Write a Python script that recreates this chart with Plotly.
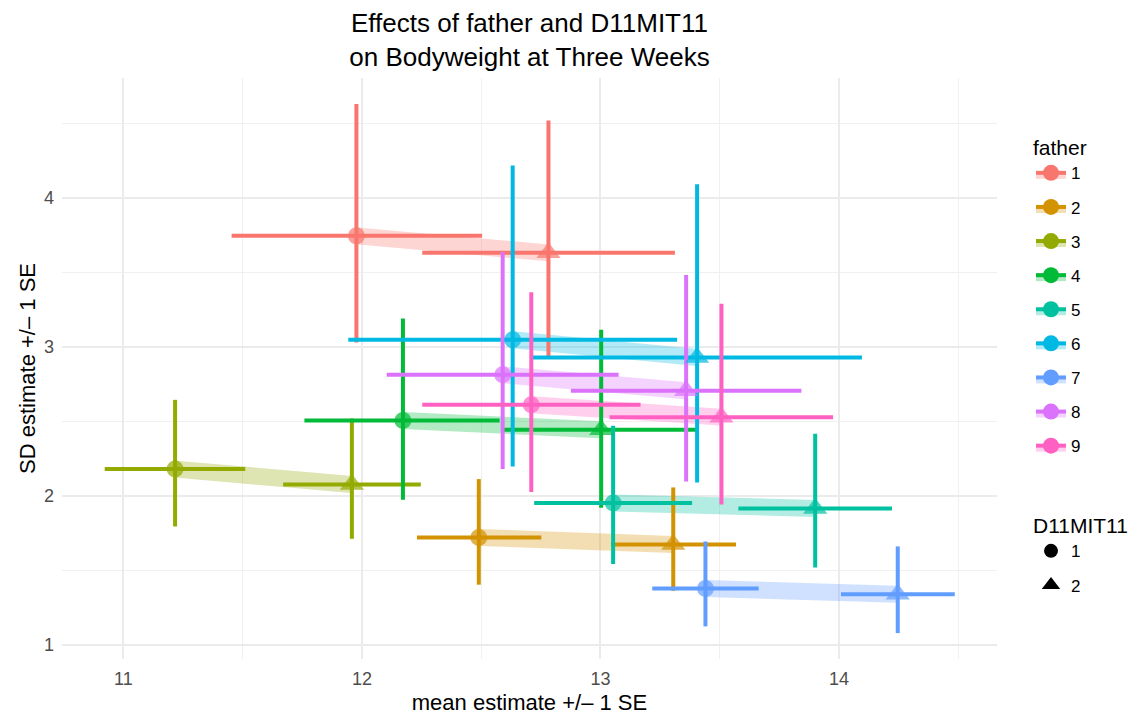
import plotly.graph_objects as go

# ---- data ----
fathers = ["1", "2", "3", "4", "5", "6", "7", "8", "9"]
genotypes = ["1", "2"]
colors = ["#F8766D", "#D39200", "#93AA00", "#00BA38", "#00C19F",
          "#00B9E3", "#619CFF", "#DB72FB", "#FF61C3"]

# D11MIT11 = 1 (circles)
mean_g1 = [11.977, 12.490, 11.217, 12.172, 13.053, 12.632, 13.440, 12.590, 12.710]
mean_lo_g1 = [11.454, 12.231, 10.922, 11.759, 12.722, 11.943, 13.217, 12.104, 12.253]
mean_hi_g1 = [12.504, 12.752, 11.511, 12.577, 13.384, 13.321, 13.663, 13.076, 13.168]
sd_g1 = [3.745, 1.720, 2.179, 2.505, 1.951, 3.047, 1.378, 2.812, 2.611]
sd_lo_g1 = [3.029, 1.403, 1.794, 1.973, 1.542, 2.197, 1.123, 2.179, 2.025]
sd_hi_g1 = [4.631, 2.112, 2.644, 3.190, 2.470, 4.217, 1.693, 3.636, 3.367]

# D11MIT11 = 2 (triangles)
mean_g2 = [12.782, 13.305, 11.958, 13.003, 13.900, 13.405, 14.246, 13.359, 13.507]
mean_lo_g2 = [12.253, 13.044, 11.670, 12.595, 13.578, 12.714, 14.008, 12.876, 13.038]
mean_hi_g2 = [13.312, 13.568, 12.247, 13.411, 14.222, 14.096, 14.485, 13.842, 13.975]
sd_g2 = [3.631, 1.673, 2.076, 2.443, 1.915, 2.928, 1.338, 2.705, 2.528]
sd_lo_g2 = [2.921, 1.362, 1.711, 1.919, 1.519, 2.089, 1.078, 2.096, 1.942]
sd_hi_g2 = [4.519, 2.056, 2.519, 3.114, 2.416, 4.092, 1.660, 3.483, 3.289]

x_ticks = [11, 12, 13, 14]
y_ticks = [1, 2, 3, 4]

symbols = ["circle", "triangle-up"]
sizes = [17, 21]

FONT = "Liberation Sans, Arial, sans-serif"


def rgba(hexcol, a):
    h = hexcol.lstrip("#")
    r, g, b = int(h[0:2], 16), int(h[2:4], 16), int(h[4:6], 16)
    return f"rgba({r},{g},{b},{a})"


fig = go.Figure()

# bands joining the two genotypes of each father
for i, f in enumerate(fathers):
    fig.add_trace(go.Scatter(
        x=[mean_g1[i], mean_g2[i]], y=[sd_g1[i], sd_g2[i]],
        mode="lines", line=dict(color=rgba(colors[i], 0.3), width=17),
        showlegend=False, hoverinfo="skip"))

# error bars
for i, f in enumerate(fathers):
    xs = [mean_g1[i], mean_g2[i]]
    ys = [sd_g1[i], sd_g2[i]]
    fig.add_trace(go.Scatter(
        x=xs, y=ys, mode="markers",
        marker=dict(size=2, opacity=0, color=colors[i]),
        error_x=dict(type="data", symmetric=False,
                     array=[mean_hi_g1[i] - mean_g1[i], mean_hi_g2[i] - mean_g2[i]],
                     arrayminus=[mean_g1[i] - mean_lo_g1[i], mean_g2[i] - mean_lo_g2[i]],
                     color=colors[i], thickness=4, width=0),
        error_y=dict(type="data", symmetric=False,
                     array=[sd_hi_g1[i] - sd_g1[i], sd_hi_g2[i] - sd_g2[i]],
                     arrayminus=[sd_g1[i] - sd_lo_g1[i], sd_g2[i] - sd_lo_g2[i]],
                     color=colors[i], thickness=4, width=0),
        showlegend=False, hoverinfo="skip"))

# points
for i, f in enumerate(fathers):
    fig.add_trace(go.Scatter(
        x=[mean_g1[i], mean_g2[i]], y=[sd_g1[i], sd_g2[i]],
        mode="markers",
        marker=dict(symbol=symbols, size=sizes, color=colors[i], line=dict(width=0)),
        showlegend=False,
        hovertemplate="father " + f + "<br>mean %{x:.2f}<br>SD %{y:.2f}<extra></extra>"))

# legend: father
for i, f in enumerate(fathers):
    fig.add_trace(go.Scatter(
        x=[None], y=[None], mode="lines+markers", name=f,
        line=dict(color=colors[i], width=4),
        marker=dict(symbol="circle", size=16, color=colors[i]),
        fill="toself", fillcolor=rgba(colors[i], 0.3),
        legend="legend", legendgroup="f" + f))

# legend: D11MIT11
for j, g in enumerate(genotypes):
    fig.add_trace(go.Scatter(
        x=[None], y=[None], mode="markers", name=g,
        marker=dict(symbol=symbols[j], size=[14, 16][j], color="black"),
        legend="legend2", legendgroup="g" + g))

axis_common = dict(
    showgrid=True, gridcolor="#EBEBEB", gridwidth=1.5,
    zeroline=False, showline=False, ticks="", automargin=False,
    tickfont=dict(family=FONT, size=18, color="#4D4D4D"),
    title_font=dict(family=FONT, size=22, color="black"),
)

fig.update_layout(
    width=1135, height=715,
    margin=dict(l=62, r=138, t=78, b=56),
    paper_bgcolor="white", plot_bgcolor="white",
    font=dict(family=FONT, color="black"),
    title=dict(text="Effects of father and D11MIT11<br>on Bodyweight at Three Weeks",
               x=529.5 / 1135, xanchor="center", xref="container",
               y=1 - 32 / 715, yanchor="middle", yref="container",
               font=dict(size=26, color="black")),
    xaxis=dict(axis_common, range=[10.743, 14.662], tickvals=x_ticks,
               ticklabelstandoff=7,
               title=dict(text="mean estimate +/\u2013 1 SE", standoff=6),
               minor=dict(dtick=0.5, tick0=10.5, showgrid=True, gridcolor="#F0F0F0", gridwidth=0.9)),
    yaxis=dict(axis_common, range=[0.904, 4.805], tickvals=y_ticks,
               ticklabelstandoff=7,
               title=dict(text="SD estimate +/\u2013 1 SE", standoff=2),
               minor=dict(dtick=0.5, tick0=0.5, showgrid=True, gridcolor="#F0F0F0", gridwidth=0.9)),
    legend=dict(title=dict(text="father", font=dict(size=21)),
                font=dict(size=17), xref="container", yref="container",
                x=1031 / 1135, y=1 - 128 / 715, xanchor="left", yanchor="top",
                tracegroupgap=9, bgcolor="rgba(0,0,0,0)"),
    legend2=dict(title=dict(text="D11MIT11", font=dict(size=21)),
                 font=dict(size=17), xref="container", yref="container",
                 x=1031 / 1135, y=1 - 506 / 715, xanchor="left", yanchor="top",
                 tracegroupgap=9, bgcolor="rgba(0,0,0,0)"),
)

fig.write_html("out.html")
